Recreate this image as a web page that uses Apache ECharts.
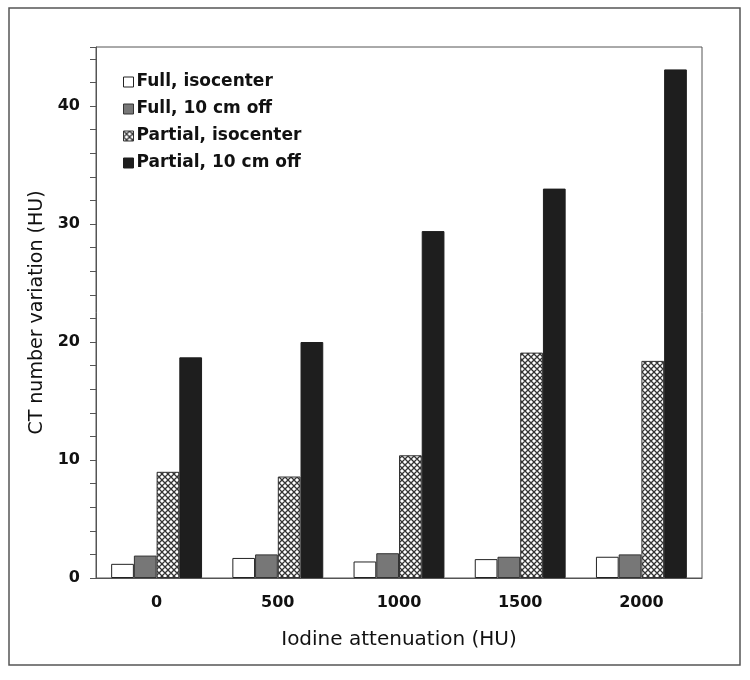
<!DOCTYPE html>
<html><head><meta charset="utf-8">
<script src="https://cdn.jsdelivr.net/npm/echarts@6/dist/echarts.min.js"></script>
<style>html,body{margin:0;padding:0;background:#fff}#c{width:750px;height:680px}</style>
</head><body><div id="c"></div>
<script>
const categories = ['0','500','1000','1500','2000'];
const seriesNames = ['Full, isocenter','Full, 10 cm off','Partial, isocenter','Partial, 10 cm off'];
const fullIso = [1.2, 1.7, 1.4, 1.6, 1.8];
const full10 = [1.9, 2.0, 2.1, 1.8, 2.0];
const partialIso = [9.0, 8.6, 10.4, 19.1, 18.4];
const partial10 = [18.7, 20.0, 29.4, 33.0, 43.1];

function hatch(){
  const c = document.createElement('canvas');
  c.width = 6; c.height = 6;
  const g = c.getContext('2d');
  g.fillStyle = '#fff'; g.fillRect(0,0,6,6);
  g.strokeStyle = '#333'; g.lineWidth = 1.3;
  g.beginPath();
  g.moveTo(0,0); g.lineTo(6,6);
  g.moveTo(6,0); g.lineTo(0,6);
  g.moveTo(-3,3); g.lineTo(3,9);
  g.moveTo(3,-3); g.lineTo(9,3);
  g.stroke();
  return c;
}
const hatchImg = hatch();

const chart = echarts.init(document.getElementById('c'));
const font = 'DejaVu Sans';
const styles = [
  {color:'#ffffff', borderColor:'#222', borderWidth:1},
  {color:'#777777', borderColor:'#333', borderWidth:1},
  {color:{image:hatchImg, repeat:'repeat'}, borderColor:'#333', borderWidth:1},
  {color:'#1e1e1e', borderColor:'#1e1e1e', borderWidth:1}
];
const data = [fullIso, full10, partialIso, partial10];
chart.setOption({
  animation:false,
  graphic:[{type:'rect', shape:{x:9,y:8,width:731,height:657}, style:{fill:'none', stroke:'#555', lineWidth:1.5}, silent:true}],
  grid:{left:96, right:48, top:47, bottom:102, show:true, borderColor:'#555', borderWidth:1, backgroundColor:'transparent'},
  legend:{
    orient:'vertical', left:118, top:68, itemWidth:10, itemHeight:10, itemGap:9,
    textStyle:{fontFamily:font, fontSize:17, lineHeight:18, fontWeight:'bold', color:'#111', padding:[0,0,0,-2]},
    data: seriesNames.map((n,i)=>({name:n, icon:'rect', itemStyle: i===2 ? {color:{image:hatchImg,repeat:'repeat'}, borderColor:'#333', borderWidth:1} : styles[i]}))
  },
  xAxis:{
    type:'category', data:categories,
    name:'Iodine attenuation (HU)', nameLocation:'middle', nameGap:52,
    nameTextStyle:{fontFamily:font, fontSize:20, color:'#111'},
    axisLine:{lineStyle:{color:'#555'}},
    axisTick:{alignWithLabel:false, length:7, lineStyle:{color:'#555'}},
    axisLabel:{fontFamily:font, fontSize:16, fontWeight:'bold', color:'#111', margin:17}
  },
  yAxis:{
    type:'value', min:0, max:45, interval:2,
    name:'CT number variation (HU)', nameLocation:'middle', nameGap:42,
    nameTextStyle:{fontFamily:font, fontSize:19, color:'#111'},
    axisLine:{show:true, lineStyle:{color:'#555'}},
    axisTick:{show:true, length:6, inside:false, lineStyle:{color:'#555'}},
    splitLine:{show:false},
    axisLabel:{fontFamily:font, fontSize:16, fontWeight:'bold', color:'#111', margin:16,
      formatter:v => (v % 10 === 0 ? String(v) : '')}
  },
  series: seriesNames.map((n,i)=>({
    name:n, type:'bar', data:data[i], barGap:'0%', barCategoryGap:'25%',
    itemStyle:styles[i]
  }))
});
</script></body></html>
